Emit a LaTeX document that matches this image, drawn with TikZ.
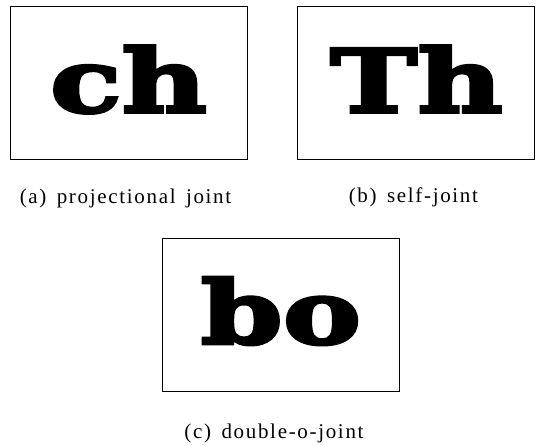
\documentclass[tikz,border=0pt]{standalone}
\usepackage{fontspec}
\setmainfont{Liberation Serif}[LetterSpace=8, WordSpace=1.5]
\newfontfamily\glyphfont{DejaVu Serif}[FakeStretch=1.35, FakeBold=4]
\usetikzlibrary{positioning}

\begin{document}
\begin{tikzpicture}[x=1pt, y=-1pt, glyphbox/.style={draw, line width=0.9pt, minimum width=237pt, minimum height=153pt, inner sep=0pt, text height=66pt, text depth=8pt, font=\glyphfont\bfseries\fontsize{87}{87}\selectfont}, caption/.style={anchor=base, inner sep=0pt, font=\fontsize{21}{24}\selectfont}]
\useasboundingbox (0,0) rectangle (538,445);
\node[glyphbox] (chbox) at (128.5,83) {ch};
\node[glyphbox, right=50pt of chbox] (thbox) {Th};
\node[glyphbox] (bobox) at (281,314.5) {bo};
\node[below=44pt of chbox, caption, xshift=-3pt] (chcap) {(a) projectional joint};
\node[below=43pt of thbox, caption, xshift=-3pt] (thcap) {(b) self-joint};
\node[below=47pt of bobox, caption, xshift=-7pt] (bocap) {(c) double-o-joint};
\end{tikzpicture}
\end{document}
